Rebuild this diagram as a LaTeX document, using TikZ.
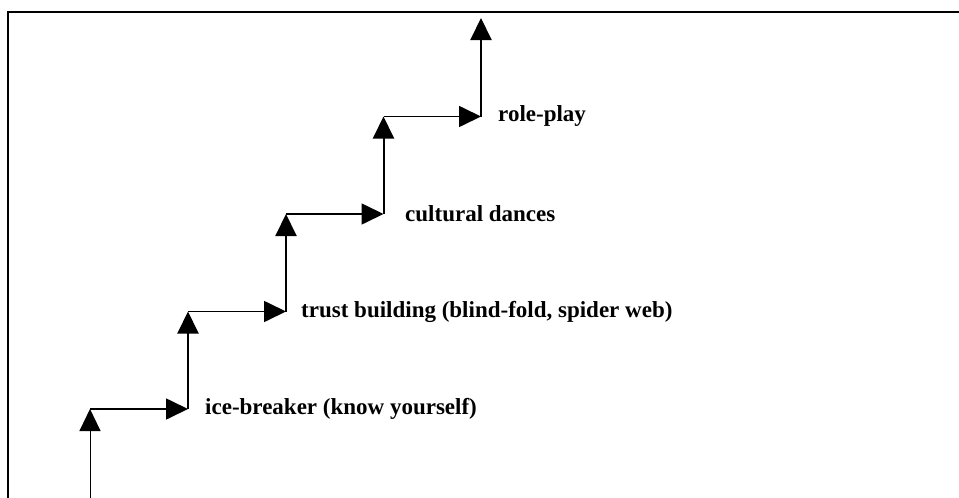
\documentclass[tikz,border=0pt]{standalone}
\usepackage{fontspec}
\setmainfont{Liberation Serif}
\usetikzlibrary{arrows.meta}

\tikzset{
  stepline/.style={-{Triangle[length=22pt,width=21pt]},line width=2pt},
  runline/.style={-{Triangle[length=22pt,width=21pt]},line width=1.7pt},
  steplabel/.style={anchor=west,inner sep=0pt,font=\fontsize{23}{26}\selectfont\bfseries}
}

\begin{document}
\begin{tikzpicture}[x=1pt,y=-1pt]
  \useasboundingbox (0,0) rectangle (959,498);

  % Frame
  \draw[line width=2.2pt] (8,498) -- (8,12) -- (959,12);

  % Corners of the stairs
  \coordinate (s0) at (90,498);
  \coordinate (s1) at (90,409);
  \coordinate (s2) at (188,409);
  \coordinate (s3) at (188,311.5);
  \coordinate (s4) at (286,311.5);
  \coordinate (s5) at (286,214);
  \coordinate (s6) at (383.5,214);
  \coordinate (s7) at (383.5,116.5);
  \coordinate (s8) at (481,116.5);
  \coordinate (s9) at (481,18);

  % Stairs
  \draw[runline,line width=1pt] (s0) -- (s1);
  \draw[runline] (s1) -- (s2);
  \draw[stepline] (s2) -- (s3);
  \draw[runline] (s3) -- (s4);
  \draw[stepline] (s4) -- (s5);
  \draw[runline] (s5) -- (s6);
  \draw[stepline] (s6) -- (s7);
  \draw[runline] (s7) -- (s8);
  \draw[stepline] (s8) -- (s9);

  % Labels
  \node[steplabel] (icebreaker) at (205,409) {ice-breaker (know yourself)};
  \node[steplabel] (trust) at (301,311.5) {trust building (blind-fold, spider web)};
  \node[steplabel] (dances) at (405,214) {cultural dances};
  \node[steplabel] (roleplay) at (498,116.5) {role-play};
\end{tikzpicture}
\end{document}
